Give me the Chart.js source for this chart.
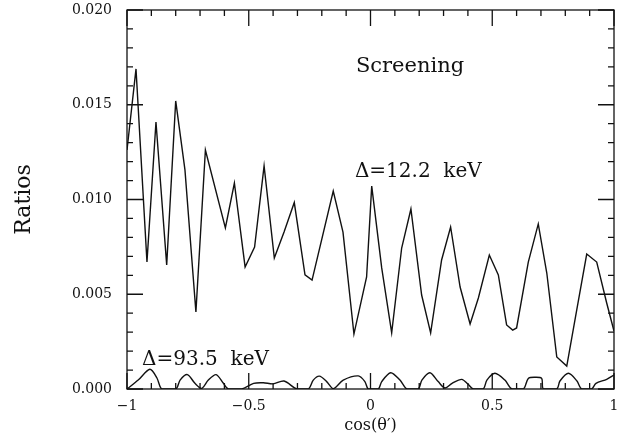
<!DOCTYPE html>
<html>
<head>
<meta charset="utf-8">
<script src="https://cdn.jsdelivr.net/npm/chart.js@4/dist/chart.umd.min.js"></script>
<style>
  html, body { margin: 0; padding: 0; background: #fff; }
  #wrap { width: 618px; height: 438px; }
</style>
</head>
<body>
<div id="wrap"><canvas id="myChart"></canvas></div>
<script>
// Delta = 12.2 keV curve
const mainCos = [-1, -0.963, -0.918, -0.881, -0.837, -0.800, -0.762, -0.717, -0.678, -0.596,
    -0.559, -0.515, -0.476, -0.437, -0.395, -0.355, -0.313, -0.269, -0.240, -0.153,
    -0.113, -0.068, -0.016, 0.005, 0.046, 0.087, 0.128, 0.166, 0.210, 0.247,
    0.292, 0.329, 0.368, 0.409, 0.443, 0.488, 0.525, 0.559, 0.584, 0.600,
    0.648, 0.689, 0.724, 0.765, 0.806, 0.847, 0.888, 0.929, 0.970, 1];
const mainRatio = [0.01261, 0.01689, 0.00670, 0.01409, 0.00654, 0.01520, 0.01156, 0.00406, 0.01261, 0.00850,
    0.01087, 0.00644, 0.00749, 0.01177, 0.00691, 0.00828, 0.00984, 0.00602, 0.00575, 0.01045,
    0.00828, 0.00290, 0.00591, 0.01071, 0.00639, 0.00296, 0.00744, 0.00950, 0.00496, 0.00296,
    0.00681, 0.00855, 0.00538, 0.00343, 0.00480, 0.00707, 0.00602, 0.00338, 0.00311, 0.00322,
    0.00670, 0.00871, 0.00612, 0.00169, 0.00121, 0.00417, 0.00712, 0.00670, 0.00454, 0.00306];

// Delta = 93.5 keV curve
const lowCos = [-1, -0.954, -0.906, -0.877, -0.857,
    -0.799, -0.782, -0.752, -0.721, -0.693, -0.666, -0.634, -0.604, -0.584,
    -0.529, -0.480, -0.440, -0.400, -0.355, -0.303,
    -0.255, -0.235, -0.210, -0.180, -0.153, -0.112, -0.050, -0.023, -0.009,
    0.032, 0.046, 0.083, 0.121, 0.149,
    0.196, 0.211, 0.244, 0.278, 0.306, 0.335, 0.375, 0.400, 0.422,
    0.463, 0.478, 0.511, 0.552, 0.580,
    0.628, 0.648, 0.676, 0.703, 0.710,
    0.765, 0.778, 0.813, 0.848, 0.867,
    0.908, 0.926, 0.970, 1];
const lowRatio = [0, 0.00047, 0.00104, 0.00058, 0,
    0, 0.00047, 0.00076, 0.00030, 0.00003, 0.00047, 0.00076, 0.00030, 0,
    0, 0.00030, 0.00033, 0.00027, 0.00042, 0,
    0, 0.00047, 0.00068, 0.00039, 0.00002, 0.00047, 0.00069, 0.00039, 0,
    0, 0.00039, 0.00086, 0.00047, 0,
    0, 0.00047, 0.00086, 0.00039, 0.00005, 0.00030, 0.00051, 0.00026, 0,
    0, 0.00047, 0.00083, 0.00047, 0,
    0, 0.00056, 0.00062, 0.00056, 0,
    0, 0.00042, 0.00083, 0.00042, 0,
    0, 0.00030, 0.00051, 0.00074];

const xTicks = [-1, -0.5, 0, 0.5, 1];
const yTicks = [0, 0.005, 0.010, 0.015, 0.020];

const notes = [
    { text: 'Screening', x: -0.060, y: 0.0170, size: 21 },
    { text: 'Δ=12.2  keV', x: -0.064, y: 0.01145, size: 20 },
    { text: 'Δ=93.5  keV', x: -0.938, y: 0.00153, size: 20 }
];

const ink = '#111';
const serif = "'DejaVu Serif', serif";

function pairs(xs, ys) {
    return xs.map((v, i) => ({ x: v, y: ys[i] }));
}

const frameTicks = {
    id: 'frameTicks',
    afterDatasetsDraw(chart) {
        const { ctx, chartArea: a, scales: { x, y } } = chart;
        ctx.save();
        ctx.strokeStyle = ink;
        ctx.lineWidth = 1.3;
        ctx.strokeRect(a.left, a.top, a.right - a.left, a.bottom - a.top);
        ctx.beginPath();
        for (let i = -10; i <= 10; i++) {
            const px = x.getPixelForValue(i / 10);
            const len = i % 5 === 0 ? 16 : 6;
            ctx.moveTo(px, a.bottom); ctx.lineTo(px, a.bottom - len);
            ctx.moveTo(px, a.top); ctx.lineTo(px, a.top + len);
        }
        for (let j = 0; j <= 20; j++) {
            const py = y.getPixelForValue(j / 1000);
            const len = j % 5 === 0 ? 16 : 6;
            ctx.moveTo(a.left, py); ctx.lineTo(a.left + len, py);
            ctx.moveTo(a.right, py); ctx.lineTo(a.right - len, py);
        }
        ctx.stroke();

        ctx.fillStyle = ink;
        ctx.textAlign = 'left';
        ctx.textBaseline = 'middle';
        notes.forEach(n => {
            ctx.font = n.size + 'px ' + serif;
            ctx.fillText(n.text, x.getPixelForValue(n.x), y.getPixelForValue(n.y));
        });
        ctx.restore();
    }
};

const config = {
    type: 'line',
    data: {
        datasets: [
            {
                label: 'Δ=12.2 keV',
                data: pairs(mainCos, mainRatio),
                borderColor: ink,
                borderWidth: 1.4,
                pointRadius: 0,
                tension: 0,
                fill: false
            },
            {
                label: 'Δ=93.5 keV',
                data: pairs(lowCos, lowRatio),
                borderColor: ink,
                borderWidth: 1.4,
                pointRadius: 0,
                tension: 0.3,
                fill: false
            }
        ]
    },
    options: {
        responsive: true,
        maintainAspectRatio: false,
        animation: false,
        layout: { padding: { left: 0, right: 4, top: 10, bottom: 0 } },
        plugins: {
            legend: { display: false },
            tooltip: { enabled: false }
        },
        scales: {
            x: {
                type: 'linear',
                min: -1,
                max: 1,
                grid: { display: false, drawTicks: false },
                border: { display: false },
                afterBuildTicks: s => { s.ticks = xTicks.map(v => ({ value: v })); },
                afterFit: s => { s.height = 49; s.paddingLeft = 0; s.paddingRight = 0; },
                ticks: {
                    color: ink,
                    padding: 9,
                    maxRotation: 0,
                    font: { family: serif, size: 14 },
                    callback: v => (v < 0 ? '\u2212' + Math.abs(v) : String(v))
                },
                title: {
                    display: true,
                    text: 'cos(θ′)',
                    color: ink,
                    font: { family: serif, size: 16 },
                    padding: { top: 0, bottom: 3 }
                }
            },
            y: {
                min: 0,
                max: 0.02,
                grid: { display: false, drawTicks: false },
                border: { display: false },
                afterBuildTicks: s => { s.ticks = yTicks.map(v => ({ value: v })); },
                afterFit: s => { s.width = 127; s.paddingTop = 0; s.paddingBottom = 0; },
                ticks: {
                    color: ink,
                    padding: 15,
                    font: { family: serif, size: 14 },
                    callback: v => v.toFixed(3)
                },
                title: {
                    display: true,
                    text: 'Ratios',
                    color: ink,
                    font: { family: serif, size: 22 },
                    padding: { top: 11, bottom: 0 }
                }
            }
        }
    },
    plugins: [frameTicks]
};

const chart = new Chart(document.getElementById('myChart'), config);
</script>
</body>
</html>
